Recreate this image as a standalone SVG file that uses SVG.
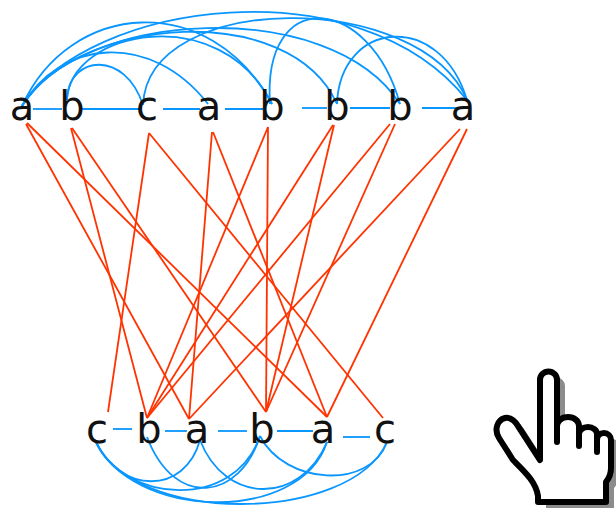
<svg xmlns="http://www.w3.org/2000/svg" width="616" height="513" viewBox="0 0 616 513">
<style>
.lt{font-family:"DejaVu Sans","Liberation Sans",sans-serif;font-size:40px;fill:#111;text-anchor:middle}
.red{stroke:#ff3300;stroke-width:1.8;fill:none}
.blue{stroke:#0a96ff;stroke-width:1.8;fill:none}
.hand{stroke:#000;stroke-width:6;stroke-linejoin:round;stroke-linecap:round}
</style>
<defs>
<path id="handShape" d="M540,460 L540,380 A8.5,8.5 0 0 1 557,380 L557,426 A11,9 0 0 1 579,426 L579,434 A9,7 0 0 1 597,434 L597,440 A7,7 0 0 1 611,440 L611,468 Q611,476 606,482 L606,502 L538,502 L538,496 C536,482 525,472 513,460 L499,438 C494,430 497,420 505,418 C511,417 515,421 518,426 Z"/>
</defs>
<rect width="616" height="513" fill="#fff"/>
<g id="connectors">
<g id="red-links">
<line class="red" x1="26" y1="124" x2="189" y2="419"/>
<line class="red" x1="27" y1="123" x2="327" y2="417"/>
<line class="red" x1="71" y1="128" x2="147" y2="418"/>
<line class="red" x1="72" y1="128" x2="266" y2="412"/>
<line class="red" x1="149" y1="133" x2="108" y2="412"/>
<line class="red" x1="149" y1="133" x2="383" y2="418"/>
<line class="red" x1="212" y1="132" x2="189" y2="419"/>
<line class="red" x1="213" y1="132" x2="327" y2="417"/>
<line class="red" x1="268" y1="127" x2="147" y2="418"/>
<line class="red" x1="268" y1="127" x2="266" y2="412"/>
<line class="red" x1="333" y1="125" x2="147" y2="418"/>
<line class="red" x1="334" y1="125" x2="266" y2="412"/>
<line class="red" x1="390" y1="124" x2="147" y2="418"/>
<line class="red" x1="395" y1="124" x2="266" y2="412"/>
<line class="red" x1="460" y1="129" x2="189" y2="419"/>
<line class="red" x1="467" y1="129" x2="327" y2="417"/>
</g>
<g id="top-links">
<line class="blue" x1="33" y1="109" x2="62" y2="109"/>
<line class="blue" x1="82" y1="109" x2="140" y2="109"/>
<line class="blue" x1="163" y1="109" x2="200" y2="109"/>
<line class="blue" x1="225" y1="109" x2="263" y2="109"/>
<line class="blue" x1="302" y1="108" x2="327" y2="108"/>
<line class="blue" x1="350" y1="108" x2="390" y2="108"/>
<line class="blue" x1="422" y1="108" x2="460" y2="108"/>
<path class="blue" d="M22,106 C90,0 360,-35 467,100"/>
<path class="blue" d="M22,106 C80,10 330,-5 400,104"/>
<path class="blue" d="M22,106 C80,15 290,0 337,104"/>
<path class="blue" d="M22,106 C70,0 210,-10 272,104"/>
<path class="blue" d="M22,106 C60,40 150,30 208,104"/>
<path class="blue" d="M67,100 C70,30 220,0 272,104"/>
<path class="blue" d="M67,98 C70,55 125,50 143,105"/>
<path class="blue" d="M143,105 C148,-10 420,-10 467,100"/>
<path class="blue" d="M270,104 C262,-15 370,-5 400,104"/>
<path class="blue" d="M337,104 C340,20 440,10 467,100"/>
</g>
<g id="bottom-links">
<line class="blue" x1="113" y1="429" x2="132" y2="429"/>
<line class="blue" x1="165" y1="431" x2="187" y2="431"/>
<line class="blue" x1="218" y1="431" x2="247" y2="431"/>
<line class="blue" x1="277" y1="431" x2="313" y2="431"/>
<line class="blue" x1="343" y1="437" x2="370" y2="437"/>
<path class="blue" d="M95,440 C130,525 350,525 387,442"/>
<path class="blue" d="M95,440 C130,520 300,525 327,442"/>
<path class="blue" d="M95,440 C125,505 235,510 260,436"/>
<path class="blue" d="M95,440 C120,495 185,495 200,440"/>
<path class="blue" d="M147,437 C175,510 240,500 260,436"/>
<path class="blue" d="M200,440 C225,505 300,505 327,442"/>
<path class="blue" d="M260,436 C285,485 370,490 387,442"/>
</g>
</g>
<g id="n-t1"><text class="lt" x="22" y="120">a</text></g>
<g id="n-t2"><text class="lt" x="72" y="120">b</text></g>
<g id="n-t3"><text class="lt" x="147" y="120">c</text></g>
<g id="n-t4"><text class="lt" x="209" y="120">a</text></g>
<g id="n-t5"><text class="lt" x="272" y="120">b</text></g>
<g id="n-t6"><text class="lt" x="337" y="120">b</text></g>
<g id="n-t7"><text class="lt" x="400" y="120">b</text></g>
<g id="n-t8"><text class="lt" x="463" y="120">a</text></g>
<g id="n-b1"><text class="lt" x="97" y="443">c</text></g>
<g id="n-b2"><text class="lt" x="149" y="443">b</text></g>
<g id="n-b3"><text class="lt" x="197" y="443">a</text></g>
<g id="n-b4"><text class="lt" x="262" y="443">b</text></g>
<g id="n-b5"><text class="lt" x="323" y="443">a</text></g>
<g id="n-b6"><text class="lt" x="385" y="443">c</text></g>
<g id="hand">
<use href="#handShape" transform="translate(8,6)" fill="#8c8c8c"/>
<use href="#handShape" class="hand" fill="#fff"/>
<path class="hand" fill="none" d="M557,426 L557,442 M579,434 L579,446 M597,440 L597,452"/>
</g>
</svg>
